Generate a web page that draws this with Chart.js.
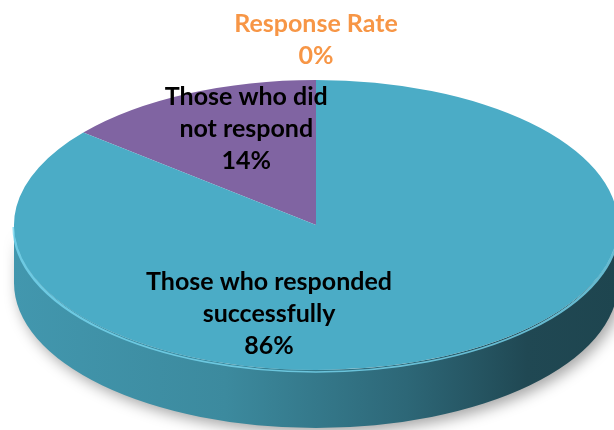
<!DOCTYPE html>
<html>
<head>
<meta charset="utf-8">
<script src="https://cdn.jsdelivr.net/npm/chart.js@4.4.0/dist/chart.umd.min.js"></script>
<style>
  html, body { margin: 0; padding: 0; background: #fff; }
</style>
</head>
<body>
<canvas id="myChart" width="614" height="430"></canvas>
<script>
// data
const categories = ['Those who did not respond', 'Response Rate', 'Those who responded successfully'];
const values = [14, 0, 86];
const labelLines = [['Those who did', 'not respond'], ['Response Rate'], ['Those who responded', 'successfully']];
const sliceColors = ['#8064A2', '#F79646', '#4BACC6'];
const labelColors = ['#000000', '#F79646', '#000000'];

// look of the tilted pie
const RX = 302;        // horizontal radius on screen
const DEPTH = 58;      // wall height
const labelRadius = [0.69, 1.3, 0.63];
const labelShift = [[19, -6], [0, 3], [-128, 6]];
const FONT = 'bold 25px Lato, "Open Sans", sans-serif';
const LINE_H = 32;

function shade(hex, f) {
  const n = parseInt(hex.slice(1), 16);
  const r = Math.round(((n >> 16) & 255) * f);
  const g = Math.round(((n >> 8) & 255) * f);
  const b = Math.round((n & 255) * f);
  return `rgb(${r},${g},${b})`;
}

const tiltPlugin = {
  id: 'tilt',
  beforeDatasetsDraw(chart) {
    const ctx = chart.ctx;
    const arcs = chart.getDatasetMeta(0).data;
    const cx = arcs[0].x, cy = arcs[0].y, r = arcs[0].outerRadius;
    const sx = RX / r;
    ctx.save();
    ctx.translate(cx, cy);
    ctx.scale(sx, 1);
    ctx.translate(-cx, -cy);

    // side wall, only the front half (0..PI) can be seen
    arcs.forEach((a, i) => {
      if (a.endAngle - a.startAngle <= 0) return;
      for (let k = -1; k <= 1; k++) {
        const lo = Math.max(a.startAngle, 2 * Math.PI * k);
        const hi = Math.min(a.endAngle, Math.PI + 2 * Math.PI * k);
        if (hi <= lo) continue;
        const c = sliceColors[i];
        const grad = ctx.createLinearGradient(cx - r, 0, cx + r, 0);
        grad.addColorStop(0, shade(c, 0.88));
        grad.addColorStop(0.35, shade(c, 0.8));
        grad.addColorStop(0.65, shade(c, 0.6));
        grad.addColorStop(0.85, shade(c, 0.42));
        grad.addColorStop(1, shade(c, 0.4));
        ctx.save();
        ctx.shadowColor = 'rgba(0,0,0,0.35)';
        ctx.shadowBlur = 14;
        ctx.shadowOffsetX = 4;
        ctx.shadowOffsetY = 5;
        ctx.beginPath();
        ctx.arc(cx, cy, r, lo, hi);
        ctx.arc(cx, cy + DEPTH, r, hi, lo, true);
        ctx.closePath();
        ctx.fillStyle = grad;
        ctx.fill();
        ctx.restore();
        // light rim on the top edge
        ctx.beginPath();
        ctx.arc(cx, cy + 2, r, lo, hi);
        ctx.strokeStyle = 'rgba(120,215,240,0.8)';
        ctx.lineWidth = 1.5;
        ctx.stroke();
      }
    });
  },
  afterDatasetsDraw(chart) {
    const ctx = chart.ctx;
    ctx.restore();
    const arcs = chart.getDatasetMeta(0).data;
    const total = values.reduce((s, v) => s + v, 0);
    ctx.save();
    ctx.font = FONT;
    ctx.textAlign = 'center';
    ctx.textBaseline = 'middle';
    arcs.forEach((a, i) => {
      const r = a.outerRadius;
      const mid = (a.startAngle + a.endAngle) / 2;
      const x = a.x + Math.cos(mid) * r * labelRadius[i] * (RX / r) + labelShift[i][0];
      const y = a.y + Math.sin(mid) * r * labelRadius[i] + labelShift[i][1];
      const lines = labelLines[i].concat([Math.round(values[i] / total * 100) + '%']);
      const top = y - (lines.length - 1) * LINE_H / 2;
      ctx.fillStyle = labelColors[i];
      lines.forEach((t, j) => ctx.fillText(t, x, top + j * LINE_H));
    });
    ctx.restore();
  }
};

new Chart(document.getElementById('myChart'), {
  type: 'pie',
  data: {
    labels: categories,
    datasets: [{
      data: values,
      backgroundColor: sliceColors,
      borderWidth: 0
    }]
  },
  options: {
    responsive: false,
    animation: false,
    rotation: -values[0] / values.reduce((s, v) => s + v, 0) * 360,
    layout: { padding: { top: 80, bottom: 60, left: 18, right: 0 } },
    plugins: {
      legend: { display: false },
      tooltip: { enabled: false }
    }
  },
  plugins: [tiltPlugin]
});
</script>
</body>
</html>
